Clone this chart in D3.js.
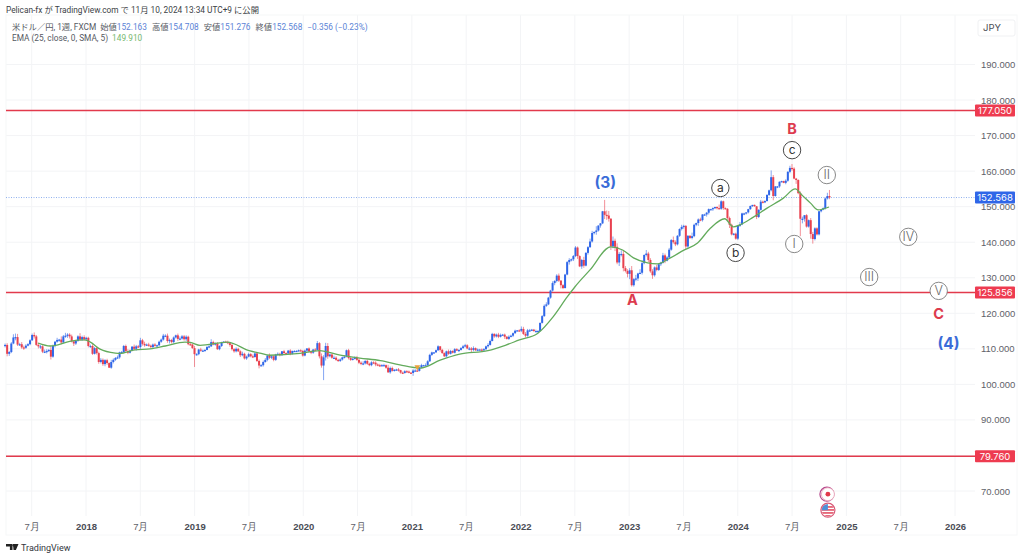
<!DOCTYPE html>
<html>
<head>
<meta charset="utf-8">
<script src="https://cdn.jsdelivr.net/npm/d3@7"></script>
<style>
  html, body { margin: 0; padding: 0; background: #fff; }
  svg { display: block; font-family: Inter, "Noto Sans CJK JP", sans-serif; }
  .axis text { fill: #5f6269; font-size: 9.5px; }
  .axis-x .year { font-weight: 700; fill: #4a4d55; }
  .head { font-family: Roboto, "Noto Sans CJK JP", sans-serif; }
</style>
</head>
<body>
<div id="chart"></div>
<script>
// weekly candles, first one is the week of 3 Apr 2017
var firstWeek = 2017.255;
var firstOpen = 110.9;

var closes = [
  // 2017
  111.1,108.6,109.1,111.5,113.2,113.3,111.2,111.3,110.4,110.3,
  110.9,111.3,112.4,113.9,113.5,111.1,110.7,110.7,109.2,109.2,
  109.4,109.7,107.8,110.8,112.0,112.5,112.6,111.8,113.5,113.7,
  114.0,113.5,112.1,111.5,112.2,113.5,112.6,113.3,112.7,
  // 2018
  113.1,110.8,110.8,108.6,110.2,108.8,106.3,106.9,105.7,106.8,
  106.0,104.7,106.3,106.9,107.4,107.6,109.0,109.1,110.8,109.4,
  108.9,109.5,110.6,110.0,110.7,110.5,112.4,111.4,111.0,111.2,
  110.9,110.5,111.2,110.9,111.0,112.0,112.6,113.7,113.7,112.2,
  112.5,111.9,113.2,113.8,112.8,112.9,113.5,112.7,113.4,111.3,
  111.2,110.2,
  // 2019
  108.5,108.5,109.8,109.5,109.5,109.7,110.5,110.7,111.9,111.2,
  111.5,109.9,110.8,111.7,112.0,111.9,111.6,111.1,109.9,109.3,
  110.0,109.3,108.2,108.6,107.3,107.8,108.5,107.9,107.7,108.7,
  106.6,105.3,105.4,106.3,106.9,108.1,107.5,107.9,106.9,108.4,
  108.6,108.2,109.3,108.8,108.7,109.5,108.6,109.4,109.4,109.4,
  109.6,109.4,
  // 2020
  108.1,109.5,110.1,109.3,108.9,109.8,109.7,111.6,107.9,105.3,
  107.6,110.8,107.9,108.4,107.5,107.5,106.9,106.6,107.0,107.6,
  107.8,109.6,107.4,106.9,107.2,107.5,106.9,106.1,105.8,105.9,
  106.6,105.8,105.4,106.2,106.1,105.6,105.4,105.3,105.4,105.4,
  104.7,103.4,104.6,103.8,104.1,104.2,104.0,103.3,103.2,103.7,
  103.6,103.3,103.2,
  // 2021
  103.9,103.9,103.8,104.7,105.4,105.4,105.4,106.5,108.3,109.0,
  109.0,109.6,110.7,109.7,108.8,107.9,109.3,108.6,109.4,108.9,
  109.9,109.5,109.7,110.2,110.7,111.0,110.1,110.1,109.7,110.2,
  109.6,109.8,109.8,109.7,109.9,110.7,111.1,112.2,114.2,113.5,
  114.0,113.4,113.9,114.0,113.4,112.8,113.4,113.7,114.4,115.1,
  115.2,115.1,
  // 2022
  115.6,114.2,113.7,115.2,115.2,115.4,115.0,115.0,115.0,117.3,
  119.2,122.1,122.5,124.4,126.4,128.5,129.1,130.6,129.2,127.9,
  127.1,130.9,134.4,135.0,135.2,136.1,138.5,136.1,133.2,135.0,
  133.4,137.0,138.6,140.2,142.6,142.9,143.3,144.7,145.3,148.7,
  147.7,147.5,146.6,138.8,140.4,138.7,134.3,136.7,136.7,132.7,
  131.9,131.1,
  // 2023
  132.1,127.9,129.6,129.8,131.2,131.4,134.1,136.4,136.8,135.0,
  131.8,130.7,132.9,132.2,133.8,134.2,136.3,134.8,135.7,137.9,
  140.6,140.0,139.4,141.8,143.7,144.3,144.6,138.8,141.8,141.2,
  141.7,144.9,145.4,146.4,146.2,147.8,147.8,148.3,149.3,149.3,
  149.6,149.9,149.6,149.4,151.5,149.6,149.4,146.8,144.9,142.2,
  142.4,141.0,
  // 2024
  144.6,145.0,148.1,148.1,148.4,149.3,150.2,150.5,150.1,147.1,
  149.1,151.4,151.2,151.6,153.3,154.6,158.3,153.0,155.7,155.7,
  157.0,157.2,156.7,157.3,159.8,160.9,160.7,157.9,157.5,153.8,
  146.6,146.6,147.6,144.4,146.2,142.3,140.9,143.9,142.2,148.7,
  149.2,149.6,152.3,153.0,152.6
];

// how far each wick sticks out of its body
var wickUp = [
  0.4,0.5,0.3,0.4,0.9,1.0,0.9,0.4,0.6,0.5,
  0.4,0.3,0.3,0.4,0.7,0.4,0.6,0.4,0.3,0.6,
  0.5,0.2,1.0,0.4,0.2,0.6,0.2,0.9,0.4,0.8,
  0.4,0.4,0.5,0.3,0.3,0.3,0.9,0.4,0.5,
  0.3,0.3,0.4,0.5,0.3,0.6,0.4,0.5,0.4,0.3,
  0.4,0.2,0.6,0.4,0.3,0.5,0.2,0.3,0.3,0.4,
  0.5,0.3,0.2,0.6,0.4,0.4,0.7,0.4,0.6,0.3,
  0.5,0.3,0.3,0.4,0.2,0.3,0.3,0.5,0.4,0.6,
  0.4,0.3,0.3,0.2,0.5,0.6,0.4,0.4,0.4,0.3,
  0.4,0.2,
  0.6,0.3,0.2,0.5,0.3,0.2,0.3,0.4,0.8,0.4,
  0.3,0.4,0.2,0.3,0.2,0.3,0.4,0.3,0.3,0.3,
  0.4,0.3,0.3,0.6,0.3,0.3,0.4,0.3,0.5,0.3,
  0.4,0.4,0.3,0.4,0.5,0.2,0.6,0.3,0.3,0.2,
  0.4,0.3,0.1,0.4,0.2,0.2,0.4,0.1,0.2,0.2,
  0.2,0.3,
  0.3,0.3,0.1,0.3,0.2,0.2,0.4,0.6,0.3,0.8,
  0.6,0.9,0.8,0.3,0.3,0.6,0.4,0.3,0.3,0.2,
  0.4,0.2,0.4,0.3,0.3,0.4,0.5,0.4,0.4,0.6,
  0.2,0.4,0.3,0.3,0.3,0.4,0.3,0.4,0.3,0.4,
  0.2,0.8,0.4,0.4,0.2,0.2,0.4,0.1,0.3,0.3,
  0.3,0.3,0.2,
  0.4,0.4,0.4,0.3,0.4,0.1,0.5,0.3,0.3,0.2,
  0.1,0.2,0.3,0.1,0.3,0.2,0.2,0.5,0.3,0.2,
  0.3,0.3,0.2,0.3,0.4,0.4,0.3,0.4,0.4,0.5,
  0.2,0.3,0.2,0.3,0.3,0.2,0.5,0.4,0.3,0.2,
  0.3,0.5,0.4,0.2,0.3,0.2,0.4,0.3,0.2,0.3,
  0.1,0.3,
  0.7,0.6,0.5,0.4,0.4,0.2,0.2,0.4,0.3,0.1,
  0.3,0.4,0.6,0.2,0.2,0.5,0.2,0.4,0.6,0.1,
  0.3,0.2,0.3,0.5,0.2,0.3,0.4,0.3,0.2,0.3,
  0.9,0.2,0.3,0.8,0.6,0.1,1.2,0.0,0.1,0.1,
  3.2,1.2,1.3,0.2,1.2,0.6,1.0,0.5,1.0,1.0,
  0.6,0.5,
  0.6,1.2,0.3,1.0,0.2,1.0,0.8,0.2,1.0,0.5,
  0.5,0.6,0.3,0.7,0.1,0.3,0.7,0.5,0.4,0.5,
  0.3,1.0,0.5,0.2,0.2,0.6,0.3,0.2,0.2,0.2,
  1.0,0.3,0.1,0.3,0.5,0.1,0.2,0.2,0.2,0.1,
  0.2,0.1,0.2,1.0,0.3,0.2,0.2,0.2,0.4,0.3,
  0.2,0.3,
  0.2,0.7,0.2,0.2,0.0,0.1,0.1,0.0,0.1,0.1,
  0.2,0.5,0.3,0.2,0.2,0.2,1.9,0.6,0.1,0.1,
  0.1,0.1,0.1,0.4,0.2,0.6,1.1,0.4,0.2,0.2,
  0.5,0.6,0.0,0.3,0.2,0.6,0.6,0.3,0.3,0.1,
  0.0,0.2,0.3,0.9,1.7
];

var wickDown = [
  0.5,0.7,0.6,0.3,0.2,0.8,0.4,0.4,0.4,0.6,
  0.3,0.2,0.3,0.2,0.6,0.3,0.6,0.7,0.4,0.4,
  0.5,0.3,0.8,0.3,0.4,0.3,0.5,0.5,0.2,0.4,
  0.6,0.6,0.3,0.7,0.4,0.2,0.3,0.4,0.4,
  0.5,0.4,0.5,0.3,0.2,0.4,0.5,0.4,0.5,0.6,
  0.5,0.1,0.3,0.4,0.3,0.2,0.4,0.2,0.2,0.4,
  0.4,0.2,0.2,0.4,0.5,0.3,0.6,0.5,0.4,0.2,
  0.3,0.4,0.3,0.3,0.3,0.2,0.3,0.3,0.4,0.5,
  0.7,0.4,0.4,0.3,0.6,0.4,0.3,0.4,0.5,0.3,
  0.3,0.2,
  3.6,0.4,0.3,0.3,0.2,0.3,0.1,0.3,0.2,0.2,
  0.3,0.2,0.3,0.3,0.1,0.2,0.3,0.5,0.4,0.4,
  0.3,0.2,0.5,0.3,0.3,0.4,0.2,0.3,0.3,0.2,
  0.3,0.8,0.2,0.4,0.2,0.4,0.4,0.4,0.4,0.3,
  0.2,0.3,0.1,0.4,0.2,0.2,0.4,0.2,0.1,0.2,
  0.2,0.2,
  0.3,0.2,0.4,0.4,0.4,0.3,0.2,0.1,0.6,0.6,
  4.1,0.9,0.7,0.3,0.3,0.3,0.3,0.3,0.3,0.3,
  0.3,0.2,0.4,0.3,0.2,0.2,0.3,0.4,0.4,0.4,
  0.3,0.3,0.3,0.3,0.4,0.5,0.3,0.4,0.2,0.2,
  0.3,0.2,0.4,0.2,0.2,0.3,0.4,0.3,0.3,0.2,
  0.3,0.2,0.3,
  0.8,0.3,0.2,0.2,0.2,0.3,0.1,0.4,0.2,0.3,
  0.3,0.1,0.2,0.5,0.2,0.2,0.3,0.3,0.2,0.2,
  0.2,0.1,0.4,0.2,0.2,0.3,0.2,0.5,0.6,0.4,
  0.2,0.3,0.2,0.3,0.3,0.2,0.4,0.2,0.1,0.4,
  0.3,0.4,0.2,0.2,0.6,0.2,0.3,0.2,0.4,0.2,
  0.2,0.3,
  0.4,0.3,0.5,0.3,0.4,0.2,0.2,0.3,0.4,0.1,
  0.2,0.2,0.3,0.2,0.3,0.3,0.6,0.4,0.4,0.9,
  0.3,0.1,0.2,0.7,0.4,0.5,0.3,0.8,0.2,0.7,
  0.6,0.2,0.5,0.2,0.3,0.4,0.8,0.3,0.6,0.2,
  1.2,1.2,0.8,1.0,0.5,1.2,0.5,1.0,0.7,0.9,
  0.4,1.0,
  1.5,0.4,0.4,0.6,0.7,0.2,0.5,0.3,0.4,0.6,
  0.4,1.0,0.4,0.4,0.3,0.5,0.2,0.7,0.2,0.3,
  0.3,0.4,0.5,0.3,0.3,0.4,0.5,0.8,0.4,0.3,
  0.4,0.3,0.4,0.8,0.3,0.4,0.3,0.6,0.5,0.3,
  0.5,0.3,0.4,0.2,0.3,0.5,0.2,0.5,0.9,0.3,
  0.3,0.3,
  0.4,0.3,0.2,0.5,0.3,0.3,0.2,0.3,0.1,0.6,
  0.3,0.2,0.3,0.2,0.2,0.3,0.3,1.2,0.2,0.5,
  0.4,0.2,0.1,0.4,0.3,0.4,0.6,0.2,1.1,0.3,
  4.9,1.3,0.8,0.3,0.3,1.3,1.3,0.4,0.3,0.3,
  0.3,0.2,0.4,0.3,0.5
];

// EMA line, years and prices
var emaYears = [2017.56,2017.67,2017.71,2017.85,2017.99,2018.04,2018.13,2018.27,2018.31,2018.45,
  2018.59,2018.73,2018.91,2018.96,2019.05,2019.30,2019.51,2019.60,2019.69,2019.97,
  2020.15,2020.34,2020.52,2020.71,2020.89,2021.08,2021.26,2021.44,2021.70,2021.86,
  2021.99,2022.16,2022.30,2022.43,2022.50,2022.64,2022.83,2022.94,2023.04,2023.17,
  2023.26,2023.38,2023.50,2023.63,2023.75,2023.88,2023.96,2024.02,2024.14,2024.27,
  2024.42,2024.53,2024.59,2024.67,2024.74,2024.84];
var emaValues = [111.6,110.8,110.9,112.1,112.5,111.9,109.9,108.8,108.7,109.7,
  110.0,110.8,111.9,111.8,111.0,111.9,109.4,108.8,108.2,108.7,
  109.5,108.2,107.4,106.7,105.5,104.6,106.8,108.5,109.5,111.0,
  112.5,114.4,119.0,124.6,127.4,132.2,138.7,137.8,135.6,134.2,
  133.9,135.6,137.7,139.8,144.0,146.6,144.3,144.9,147.0,149.6,
  152.4,155.0,153.3,151.0,149.1,149.91];

// axis ticks
var priceTicks = [70,80,90,100,110,120,130,140,150,160,170,180,190];
var timeTicks = [2017.5,2018,2018.5,2019,2019.5,2020,2020.5,2021,2021.5,2022,2022.5,2023,2023.5,2024,2024.5,2025,2025.5,2026];
var timeLabels = ['7月','2018','7月','2019','7月','2020','7月','2021','7月','2022','7月','2023','7月','2024','7月','2025','7月','2026'];

// horizontal levels
var redLevels = [177.05,125.856,79.76];
var lastPrice = 152.568;

// wave count labels
var circleLabels = ['a','b','c'];
var circleYears = [2023.84,2023.98,2024.50];
var circlePrices = [155.25,137.0,165.9];
var romanLabels = ['I','II','III','IV','V'];
var romanYears = [2024.52,2024.82,2025.21,2025.57,2025.85];
var romanPrices = [139.5,158.9,130.2,141.5,126.3];
var bigLabels = ['(3)','A','B','C','(4)'];
var bigYears = [2022.78,2023.03,2024.50,2025.85,2025.94];
var bigPrices = [156.7,123.7,171.9,119.8,111.4];

var width = 1024, height = 558;
var plotLeft = 6, plotRight = 975, frameRight = 1017, plotTop = 15, plotBottom = 535;
var upColor = '#2f66e8', downColor = '#e8414f', emaColor = '#63ab5c', levelColor = '#e23a4c';

var x = d3.scaleLinear().domain([2018, 2026]).range([86, 955]);
var y = d3.scaleLinear().domain([70, 190]).range([491, 64.5]);

var svg = d3.select('#chart').append('svg')
    .attr('width', width)
    .attr('height', height);

// grid and frame
svg.append('g').selectAll('line')
    .data(timeTicks)
  .enter().append('line')
    .attr('x1', function(d) { return x(d); })
    .attr('x2', function(d) { return x(d); })
    .attr('y1', plotTop)
    .attr('y2', plotBottom - 19)
    .attr('stroke', '#f3f4f6');

svg.append('g').selectAll('line')
    .data(priceTicks)
  .enter().append('line')
    .attr('x1', plotLeft)
    .attr('x2', plotRight)
    .attr('y1', function(d) { return y(d); })
    .attr('y2', function(d) { return y(d); })
    .attr('stroke', '#f3f4f6');

svg.append('rect')
    .attr('x', plotLeft)
    .attr('y', plotTop)
    .attr('width', frameRight - plotLeft)
    .attr('height', plotBottom - plotTop)
    .attr('fill', 'none')
    .attr('stroke', '#f6f7f8');

// axes
var yAxis = svg.append('g')
    .attr('class', 'axis axis-y')
    .attr('transform', 'translate(' + plotRight + ',0)')
    .call(d3.axisRight(y).tickValues(priceTicks).tickSize(0).tickPadding(6).tickFormat(d3.format('.3f')));
yAxis.select('.domain').remove();

var xAxis = svg.append('g')
    .attr('class', 'axis axis-x')
    .attr('transform', 'translate(0,' + (plotBottom - 17) + ')')
    .call(d3.axisBottom(x).tickValues(timeTicks).tickSize(0).tickPadding(5).tickFormat(function(d, i) { return timeLabels[i]; }));
xAxis.select('.domain').remove();
xAxis.selectAll('text').classed('year', function(d, i) { return timeLabels[i] !== '7月'; });

// levels
svg.append('g').selectAll('line')
    .data(redLevels)
  .enter().append('line')
    .attr('x1', plotLeft)
    .attr('x2', plotRight)
    .attr('y1', function(d) { return y(d); })
    .attr('y2', function(d) { return y(d); })
    .attr('stroke', levelColor)
    .attr('stroke-width', 1.5);

svg.append('line')
    .attr('x1', plotLeft)
    .attr('x2', plotRight)
    .attr('y1', y(lastPrice))
    .attr('y2', y(lastPrice))
    .attr('stroke', '#8fb0ee')
    .attr('stroke-dasharray', '1,1.5');

// candles
var candles = closes.map(function(c, i) {
  var o = i ? closes[i - 1] : firstOpen;
  return {
    year: firstWeek + i * 7 / 365.25,
    open: o,
    close: c,
    high: Math.max(o, c) + wickUp[i],
    low: Math.min(o, c) - wickDown[i]
  };
});

function candleColor(d) {
  return d.close >= d.open ? upColor : downColor;
}

var candle = svg.append('g').selectAll('g')
    .data(candles)
  .enter().append('g');

candle.append('line')
    .attr('x1', function(d) { return x(d.year); })
    .attr('x2', function(d) { return x(d.year); })
    .attr('y1', function(d) { return y(d.high); })
    .attr('y2', function(d) { return y(d.low); })
    .attr('stroke', candleColor)
    .attr('stroke-opacity', 0.65)
    .attr('stroke-width', 0.9);

candle.append('rect')
    .attr('x', function(d) { return x(d.year) - 1; })
    .attr('width', 2)
    .attr('y', function(d) { return y(Math.max(d.open, d.close)); })
    .attr('height', function(d) { return Math.max(1.2, Math.abs(y(d.open) - y(d.close))); })
    .attr('fill', candleColor);

// EMA
var emaLine = d3.line()
    .x(function(d) { return x(d); })
    .y(function(d, i) { return y(emaValues[i]); })
    .curve(d3.curveMonotoneX);

svg.append('path')
    .attr('d', emaLine(emaYears))
    .attr('fill', 'none')
    .attr('stroke', emaColor)
    .attr('stroke-width', 1.3);

// small dividend style marker near the start of 2021
svg.append('path')
    .attr('d', d3.symbol().type(d3.symbolTriangle).size(14))
    .attr('transform', 'translate(' + x(2021.05) + ',' + y(104.9) + ') rotate(180)')
    .attr('fill', '#e9a23b');

// price tags
var tags = redLevels.map(function(v) { return {value: v, fill: '#ee3b50'}; })
    .concat([{value: lastPrice, fill: '#2f66e8'}]);

var tag = svg.append('g').selectAll('g')
    .data(tags)
  .enter().append('g')
    .attr('transform', function(d) { return 'translate(' + plotRight + ',' + y(d.value) + ')'; });

tag.append('rect')
    .attr('y', -6)
    .attr('width', 40)
    .attr('height', 12)
    .attr('rx', 1)
    .attr('fill', function(d) { return d.fill; });

tag.append('text')
    .attr('x', 20)
    .attr('dy', '0.35em')
    .attr('text-anchor', 'middle')
    .attr('fill', '#fff')
    .attr('font-size', 9.5)
    .text(function(d) { return d3.format('.3f')(d.value); });

// wave labels
function addCircles(labels, years, prices, stroke, textColor, r, fontSize, weight) {
  var g = svg.append('g').selectAll('g')
      .data(labels)
    .enter().append('g')
      .attr('transform', function(d, i) { return 'translate(' + x(years[i]) + ',' + y(prices[i]) + ')'; });
  g.append('circle')
      .attr('r', r)
      .attr('fill', '#fff')
      .attr('stroke', stroke)
      .attr('stroke-width', 0.9);
  g.append('text')
      .attr('text-anchor', 'middle')
      .attr('dy', '0.35em')
      .attr('fill', textColor)
      .attr('font-size', fontSize)
      .attr('font-weight', weight)
      .text(function(d) { return d; });
}
addCircles(circleLabels, circleYears, circlePrices, '#333', '#333', 8.7, 12, 400);
addCircles(romanLabels, romanYears, romanPrices, '#7b7b7b', '#6a6a6a', 8.7, 12.5, 300);

svg.append('g').selectAll('text')
    .data(bigLabels)
  .enter().append('text')
    .attr('x', function(d, i) { return x(bigYears[i]); })
    .attr('y', function(d, i) { return y(bigPrices[i]); })
    .attr('dy', '0.35em')
    .attr('text-anchor', 'middle')
    .attr('font-weight', 700)
    .attr('font-size', function(d) { return d.charAt(0) === '(' ? 15.5 : 14.5; })
    .attr('fill', function(d) { return d.charAt(0) === '(' ? '#3a6cd8' : '#dd3b4e'; })
    .text(function(d) { return d; });

// event icons under the chart
var iconX = x(2024.83);
var jp = svg.append('g').attr('transform', 'translate(' + iconX + ',' + y(69.1) + ')');
jp.append('circle').attr('cx', -1).attr('r', 7).attr('fill', '#fff').attr('stroke', '#b5478c').attr('stroke-width', 1.2);
jp.append('circle').attr('r', 6.5).attr('fill', '#fff').attr('stroke', '#e8a0b4').attr('stroke-width', 0.8);
jp.append('circle').attr('r', 2.4).attr('fill', '#e23a4c');

var us = svg.append('g').attr('transform', 'translate(' + iconX + ',' + y(64.6) + ')');
us.append('clipPath').attr('id', 'usclip').append('circle').attr('r', 6.2);
var usFlag = us.append('g').attr('clip-path', 'url(#usclip)');
usFlag.append('rect').attr('x', -7).attr('y', -7).attr('width', 14).attr('height', 14).attr('fill', '#fff');
usFlag.selectAll('.stripe').data([-4, -1, 2, 5]).enter().append('rect')
    .attr('class', 'stripe').attr('x', -7).attr('y', function(d) { return d; }).attr('width', 14).attr('height', 1.5).attr('fill', '#e0455a');
usFlag.append('rect').attr('x', -7).attr('y', -7).attr('width', 7).attr('height', 7).attr('fill', '#4f8fd6');
us.append('circle').attr('r', 7).attr('fill', 'none').attr('stroke', '#d85a78').attr('stroke-width', 1.2);

// JPY box
svg.append('rect')
    .attr('x', 978).attr('y', 20).attr('width', 37).attr('height', 16).attr('rx', 2)
    .attr('fill', '#fff').attr('stroke', '#f0f1f3');
svg.append('text')
    .attr('x', 983).attr('y', 31).attr('font-size', 9.5).attr('fill', '#4a4d55')
    .text('JPY');

// header
svg.append('text')
    .attr('class', 'head')
    .attr('x', 6).attr('y', 13).attr('font-size', 8.3).attr('fill', '#3c3f46')
    .text('Pelican-fx が TradingView.com で 11月 10, 2024 13:34 UTC+9 に公開');

var blue = '#5b83d6';
var legend = svg.append('text').attr('class', 'head').attr('x', 12).attr('y', 29.5).attr('font-size', 8.3).attr('fill', '#555962');
legend.append('tspan').text('米ドル／円, 1週, FXCM');
legend.append('tspan').attr('dx', 4).text('始値');
legend.append('tspan').attr('fill', blue).text('152.163');
legend.append('tspan').attr('dx', 5).text('高値');
legend.append('tspan').attr('fill', blue).text('154.708');
legend.append('tspan').attr('dx', 5).text('安値');
legend.append('tspan').attr('fill', blue).text('151.276');
legend.append('tspan').attr('dx', 5).text('終値');
legend.append('tspan').attr('fill', blue).text('152.568');
legend.append('tspan').attr('dx', 5).attr('fill', blue).text('−0.356 (−0.23%)');

var legend2 = svg.append('text').attr('class', 'head').attr('x', 12).attr('y', 41).attr('font-size', 8.3).attr('fill', '#555962');
legend2.append('tspan').text('EMA (25, close, 0, SMA, 5)');
legend2.append('tspan').attr('dx', 4).attr('fill', '#76b86f').text('149.910');

// footer logo
svg.append('path')
    .attr('d', 'M6 544h6.5v6h-2.6v-3.5H6z M13 544h5.5l-2.6 6h-2.4z')
    .attr('fill', '#222');
svg.append('circle').attr('cx', 13.8).attr('cy', 545.3).attr('r', 1.3).attr('fill', '#222');
svg.append('text')
    .attr('class', 'head')
    .attr('x', 21).attr('y', 550.5).attr('font-size', 9).attr('fill', '#33363c')
    .text('TradingView');
</script>
</body>
</html>
